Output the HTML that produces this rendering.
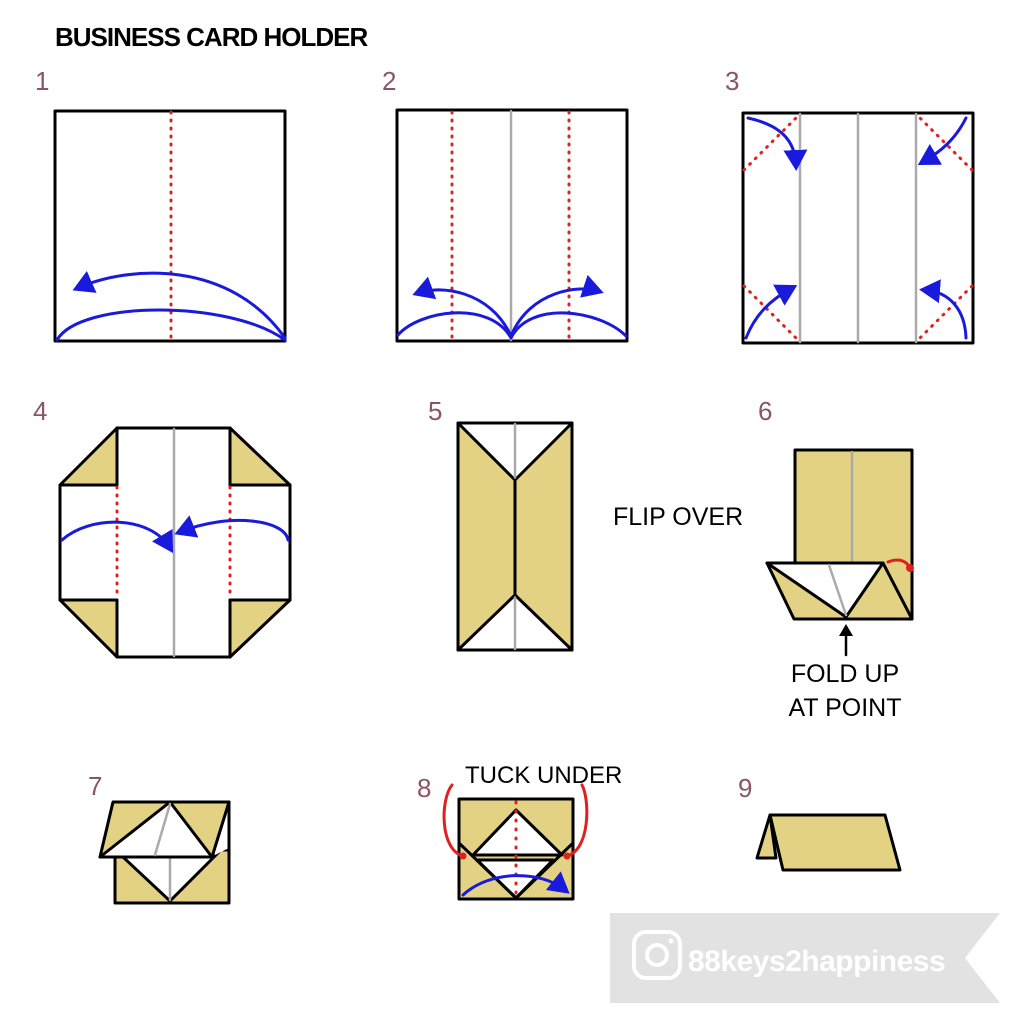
<!DOCTYPE html>
<html><head><meta charset="utf-8"><style>body{margin:0;background:#fff}svg{display:block}</style></head><body>
<svg width="1024" height="1024" viewBox="0 0 1024 1024" xmlns="http://www.w3.org/2000/svg" font-family="Liberation Sans, sans-serif">
<defs>
<marker id="ab" markerWidth="8" markerHeight="8" refX="5" refY="4" orient="auto" markerUnits="strokeWidth"><path d="M0,0 L7,4 L0,8 Z" fill="#1a1adc"/></marker>
</defs>
<g fill="none" stroke-linecap="round" stroke-linejoin="round">
<text x="55" y="46" font-size="26" font-weight="bold" fill="#000" stroke="none" letter-spacing="-1">BUSINESS CARD HOLDER</text>
<g fill="#8a5565" stroke="none" font-size="26">
<text x="35" y="90">1</text><text x="382" y="90">2</text><text x="725" y="90">3</text>
<text x="33" y="420">4</text><text x="428" y="420">5</text><text x="758" y="420">6</text>
<text x="88" y="795">7</text><text x="417" y="797">8</text><text x="738" y="797">9</text>
</g>
<rect x="55" y="111" width="230" height="230" stroke="#000" stroke-width="3" fill="#fff"/>
<line x1="171" y1="112" x2="171" y2="340" stroke="#e02020" stroke-width="3" stroke-dasharray="1,7"/>
<path d="M57,340 C80,300 230,300 285,340" stroke="#1a1adc" stroke-width="3"/>
<path d="M285,338 C230,260 130,265 78,288" stroke="#1a1adc" stroke-width="3" marker-end="url(#ab)"/>
<rect x="397" y="110" width="230" height="231" stroke="#000" stroke-width="3" fill="#fff"/>
<line x1="511" y1="111" x2="511" y2="340" stroke="#aaa" stroke-width="2.5"/>
<line x1="452" y1="112" x2="452" y2="340" stroke="#e02020" stroke-width="3" stroke-dasharray="1,7"/>
<line x1="569" y1="112" x2="569" y2="340" stroke="#e02020" stroke-width="3" stroke-dasharray="1,7"/>
<path d="M398,335 C420,310 490,300 511,338 C530,300 600,310 626,336" stroke="#1a1adc" stroke-width="3"/>
<path d="M511,336 C490,290 440,285 418,293" stroke="#1a1adc" stroke-width="3" marker-end="url(#ab)"/>
<path d="M511,336 C530,290 580,285 598,291" stroke="#1a1adc" stroke-width="3" marker-end="url(#ab)"/>
<rect x="743" y="113" width="230" height="230" stroke="#000" stroke-width="3" fill="#fff"/>
<g stroke="#aaa" stroke-width="2.5"><line x1="800" y1="114" x2="800" y2="342"/><line x1="858" y1="114" x2="858" y2="342"/><line x1="916" y1="114" x2="916" y2="342"/></g>
<g stroke="#e02020" stroke-width="3" stroke-dasharray="1,7">
<line x1="744" y1="170" x2="800" y2="114"/><line x1="972" y1="170" x2="916" y2="114"/>
<line x1="744" y1="286" x2="800" y2="342"/><line x1="972" y1="286" x2="916" y2="342"/></g>
<g stroke="#1a1adc" stroke-width="3">
<path d="M748,118 C780,125 795,140 796,165" marker-end="url(#ab)"/>
<path d="M966,118 C955,140 940,152 923,162" marker-end="url(#ab)"/>
<path d="M746,338 C755,315 770,300 792,288" marker-end="url(#ab)"/>
<path d="M966,338 C965,310 950,292 925,290" marker-end="url(#ab)"/></g>
<path d="M117,428 H230 V485 H290 V600 H230 V657 H117 V600 H60 V485 H117 Z" fill="#fff" stroke="#000" stroke-width="3"/>
<g fill="#e3d283" stroke="#000" stroke-width="3">
<path d="M60,485 L117,428 V485 Z"/><path d="M290,485 L230,428 V485 Z"/>
<path d="M60,600 L117,657 V600 Z"/><path d="M290,600 L230,657 V600 Z"/></g>
<line x1="174" y1="429" x2="174" y2="656" stroke="#aaa" stroke-width="2.5"/>
<line x1="117" y1="487" x2="117" y2="598" stroke="#e02020" stroke-width="3" stroke-dasharray="1,7"/>
<line x1="230" y1="487" x2="230" y2="598" stroke="#e02020" stroke-width="3" stroke-dasharray="1,7"/>
<path d="M62,540 C90,515 150,515 170,548" stroke="#1a1adc" stroke-width="3" marker-end="url(#ab)"/>
<path d="M288,540 C285,520 230,512 180,532" stroke="#1a1adc" stroke-width="3" marker-end="url(#ab)"/>
<rect x="458" y="423" width="114" height="227" fill="#e3d283" stroke="#000" stroke-width="3"/>
<path d="M458,423 H572 L515,480 Z" fill="#fff" stroke="#000" stroke-width="3"/>
<path d="M458,650 H572 L515,595 Z" fill="#fff" stroke="#000" stroke-width="3"/>
<line x1="515" y1="424" x2="515" y2="478" stroke="#aaa" stroke-width="2.5"/>
<line x1="515" y1="597" x2="515" y2="649" stroke="#aaa" stroke-width="2.5"/>
<line x1="515" y1="480" x2="515" y2="595" stroke="#000" stroke-width="3"/>
<text x="613" y="525" font-size="25" fill="#000" stroke="none">FLIP OVER</text>
<rect x="795" y="450" width="117" height="169" fill="#e3d283" stroke="#000" stroke-width="3"/>
<line x1="852" y1="452" x2="852" y2="563" stroke="#aaa" stroke-width="2.5"/>
<path d="M767,563 H883 L912,619 H794 Z" fill="#e3d283" stroke="#000" stroke-width="3"/>
<path d="M767,563 H883 L846,617 Z" fill="#fff" stroke="#000" stroke-width="3"/>
<line x1="829" y1="565" x2="846" y2="615" stroke="#aaa" stroke-width="2.5"/>
<path d="M888,562 C898,558 906,560 910,568" stroke="#e02020" stroke-width="3"/>
<circle cx="910" cy="568" r="4" fill="#e02020" stroke="none"/>
<line x1="846" y1="655" x2="846" y2="632" stroke="#000" stroke-width="2.5"/>
<path d="M839,636 L846,624 L853,636 Z" fill="#000" stroke="none"/>
<text x="845" y="682" font-size="25" fill="#000" stroke="none" text-anchor="middle">FOLD UP</text>
<text x="845" y="716" font-size="25" fill="#000" stroke="none" text-anchor="middle">AT POINT</text>
<rect x="115" y="850" width="114" height="53" fill="#e3d283" stroke="#000" stroke-width="3"/>
<path d="M123,857 L170,901 L220,851 Z" fill="#fff" stroke="#000" stroke-width="3"/>
<path d="M215,805 H229 V848 L215,855 Z" fill="#fff" stroke="none"/>
<line x1="170" y1="858" x2="170" y2="900" stroke="#aaa" stroke-width="2.5"/>
<path d="M113,802 H229 L212,857 H100 Z" fill="#e3d283" stroke="#000" stroke-width="3"/>
<path d="M170,802 L100,857 H212 Z" fill="#fff" stroke="#000" stroke-width="3"/>
<line x1="170" y1="804" x2="155" y2="855" stroke="#aaa" stroke-width="2.5"/>
<line x1="229" y1="802" x2="229" y2="850" stroke="#000" stroke-width="3"/>
<rect x="459" y="799" width="114" height="100" fill="#e3d283" stroke="#000" stroke-width="3"/>
<path d="M516,810 L562,855 H473 Z" fill="#fff" stroke="#000" stroke-width="3"/>
<path d="M477,860 H553 L516,898 Z" fill="#fff" stroke="#000" stroke-width="3"/>
<path d="M459,843 L516,898 L573,843" stroke="#000" stroke-width="3"/>
<line x1="516" y1="802" x2="516" y2="896" stroke="#e02020" stroke-width="3" stroke-dasharray="1,8"/>
<path d="M463,856 C440,850 440,800 452,785" stroke="#e02020" stroke-width="3"/>
<path d="M567,856 C590,850 590,800 582,785" stroke="#e02020" stroke-width="3"/>
<circle cx="463" cy="856" r="3.5" fill="#e02020" stroke="none"/><circle cx="567" cy="856" r="3.5" fill="#e02020" stroke="none"/>
<path d="M463,895 C490,870 540,870 565,890" stroke="#1a1adc" stroke-width="3" marker-end="url(#ab)"/>
<text x="465" y="783" font-size="24" fill="#000" stroke="none">TUCK UNDER</text>
<path d="M757,858 L770,815 L776,858 Z" fill="#e3d283" stroke="#000" stroke-width="3"/>
<path d="M770,815 H885 L900,870 H783 Z" fill="#e3d283" stroke="#000" stroke-width="3"/>
<path d="M610,913 H1000 L965,958 L1000,1003 H610 Z" fill="#e2e2e2" stroke="none"/>
<rect x="634" y="932" width="46" height="46" rx="12" stroke="#fff" stroke-width="4"/>
<circle cx="657" cy="955" r="10" stroke="#fff" stroke-width="4"/>
<circle cx="671" cy="941" r="2.5" fill="#fff" stroke="none"/>
<text x="688" y="971" font-size="30" font-weight="bold" fill="#fff" stroke="none" letter-spacing="-0.5">88keys2happiness</text>
</g>
</svg>
</body></html>
